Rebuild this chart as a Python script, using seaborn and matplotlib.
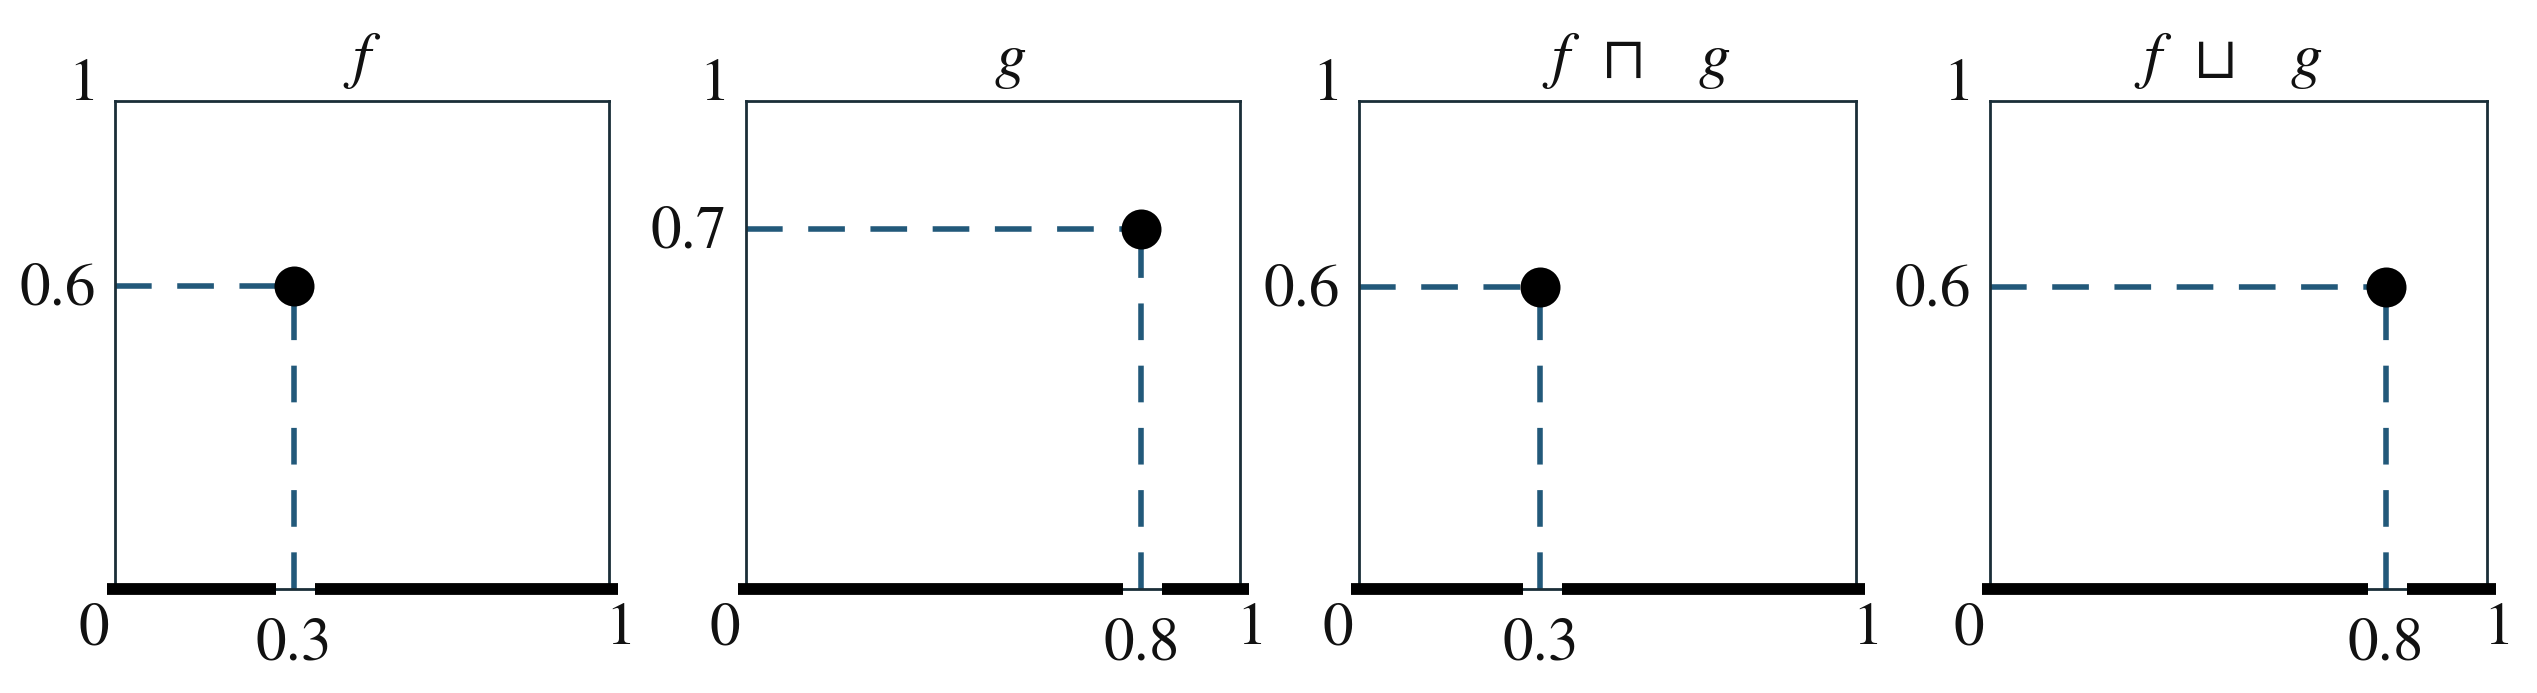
import numpy as np
import pandas as pd
import seaborn as sns
import matplotlib.pyplot as plt

# values (positions as drawn, labels as printed)
panel_titles = [r"$f$", r"$g$", r"$f\;\;\sqcap\;\;\;\,g$", r"$f\;\;\sqcup\;\;\;\,g$"]
point_x = [0.362, 0.80, 0.365, 0.797]
point_y = [0.62, 0.737, 0.618, 0.618]
x_labels = ["0.3", "0.8", "0.3", "0.8"]
y_labels = ["0.6", "0.7", "0.6", "0.6"]

dash_color = "#22597a"
frame_color = "#1a2e38"
text_color = "#111111"

sns.set_theme(style="white")
plt.rcParams["font.family"] = ["STIXGeneral", "DejaVu Sans"]
plt.rcParams["mathtext.fontset"] = "stix"

W, H = 2537, 693
fig = plt.figure(figsize=(W / 100, H / 100), dpi=100)

# axes boxes in pixels
lefts = [115, 746, 1359, 1990]
widths = [494, 494, 497, 497]
top, bottom = 101, 589
title_x = [0.5, 0.534, 0.558, 0.48]
dash = (0, (6.6, 4.6))

for i in range(4):
    ax = fig.add_axes([lefts[i] / W, (H - bottom) / H, widths[i] / W, (bottom - top) / H])
    ax.set_xlim(0, 1)
    ax.set_ylim(0, 1)
    ax.set_xticks([])
    ax.set_yticks([])
    for sp in ax.spines.values():
        sp.set_visible(True)
        sp.set_color(frame_color)
        sp.set_linewidth(2)

    xp, yp = point_x[i], point_y[i]

    # thick segments on the baseline, broken around the point
    seg = pd.DataFrame({"x": [-0.016, xp - 0.036, np.nan, xp + 0.043, 1.018],
                        "y": [0, 0, np.nan, 0, 0]})
    for part in [seg.iloc[:2], seg.iloc[3:]]:
        sns.lineplot(data=part, x="x", y="y", ax=ax, color="black", lw=8.5,
                     estimator=None, sort=False, solid_capstyle="butt",
                     clip_on=False, zorder=3)

    # dashed guides
    sns.lineplot(x=[0, xp], y=[yp, yp], ax=ax, color=dash_color, lw=4,
                 estimator=None, sort=False, linestyle=dash, zorder=2)
    sns.lineplot(x=[xp, xp], y=[0, yp], ax=ax, color=dash_color, lw=4,
                 estimator=None, sort=False, linestyle=dash, zorder=2)

    sns.scatterplot(x=[xp], y=[yp], ax=ax, s=830, color="black", linewidth=0,
                    zorder=5, clip_on=False)

    ax.set_xlabel("")
    ax.set_ylabel("")
    ax.set_title(panel_titles[i], fontsize=46, pad=18, x=title_x[i], color=text_color)

    fs = 44
    ax.annotate("1", xy=(0, 1), xycoords="axes fraction", xytext=(-23, 11),
                textcoords="offset points", ha="center", va="center",
                fontsize=fs, color=text_color)
    ax.annotate(y_labels[i], xy=(0, yp), xycoords="data", xytext=(-14, -3),
                textcoords="offset points", ha="right", va="center",
                fontsize=fs, color=text_color)
    ax.annotate("0", xy=(0, 0), xycoords="data", xytext=(-15, -10),
                textcoords="offset points", ha="center", va="top",
                fontsize=fs, color=text_color)
    ax.annotate(x_labels[i], xy=(xp, 0), xycoords="data", xytext=(0, -21),
                textcoords="offset points", ha="center", va="top",
                fontsize=fs, color=text_color)
    ax.annotate("1", xy=(1, 0), xycoords="data", xytext=(8, -10),
                textcoords="offset points", ha="center", va="top",
                fontsize=fs, color=text_color)

fig.savefig("out.png", dpi=100, facecolor="white")
